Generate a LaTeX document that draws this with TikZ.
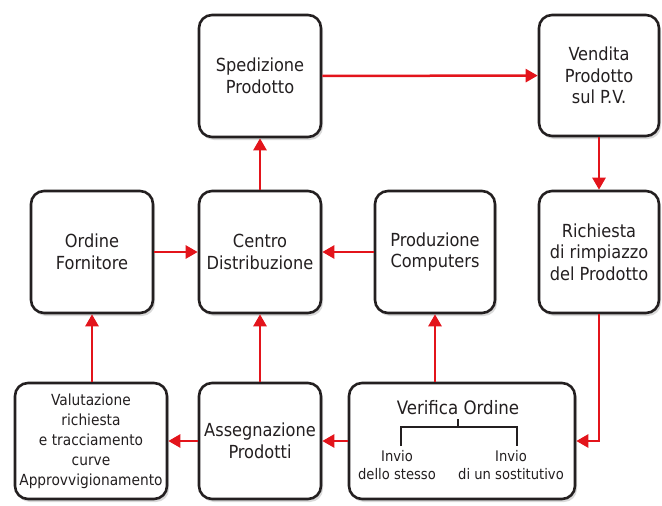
\documentclass[tikz,border=0pt]{standalone}
\usepackage{fontspec}
\setmainfont{DejaVu Sans Condensed}
\usetikzlibrary{arrows.meta,shadows}
\definecolor{arr}{HTML}{E3141B}
\definecolor{txt}{HTML}{231F20}
\begin{document}
\begin{tikzpicture}[x=1pt,y=-1pt,
 box/.style={draw=txt, line width=2.6pt, rounded corners=13pt, fill=white, align=center, text=txt,
   font=\fontsize{18}{21.7}\selectfont, inner sep=0pt,
   drop shadow={opacity=0.3,shadow xshift=2pt,shadow yshift=-3pt}},
 flow/.style={draw=arr, line width=2.5pt, -{Triangle[length=12pt,width=13pt]}},
 brk/.style={draw=txt, line width=1.3pt},
 lbl/.style={align=center, text=txt, font=\fontsize{14.6}{18}\selectfont, inner sep=0pt}]
\useasboundingbox (0,0) rectangle (662,506);
\node[box, minimum width=122pt, minimum height=122pt] (sped) at (260,76) {Spedizione\\Prodotto};
\node[box, minimum width=120pt, minimum height=121pt] (vend) at (599,75.5) {Vendita\\Prodotto\\sul P.V.};
\node[box, minimum width=122pt, minimum height=122pt] (ord) at (92,252) {Ordine\\Fornitore};
\node[box, minimum width=122pt, minimum height=122pt] (cent) at (260,252) {Centro\\Distribuzione};
\node[box, minimum width=120pt, minimum height=122pt] (prod) at (435,252) {Produzione\\Computers};
\node[box, minimum width=120pt, minimum height=122pt] (rich) at (599,252) {Richiesta\\di rimpiazzo\\del Prodotto};
\node[box, minimum width=152pt, minimum height=116pt, font=\fontsize{15.3}{20}\selectfont] (valu) at (91,441) {Valutazione\\richiesta\\e tracciamento\\curve\\Approvvigionamento};
\node[box, minimum width=122pt, minimum height=116pt] (asse) at (260,441) {Assegnazione\\Prodotti};
\node[box, minimum width=226pt, minimum height=116pt] (veri) at (462,441) {};
\node[lbl, font=\fontsize{18.5}{22}\selectfont] (vtit) at (458,408) {Verifica Ordine};
\coordinate (bt) at (458,419);
\coordinate (bm) at (458,427);
\coordinate (bl) at (401,427);
\coordinate (br) at (517,427);
\coordinate (bld) at (401,446);
\coordinate (brd) at (517,446);
\draw[brk] (bt) -- (bm) (bld) -- (bl) -- (br) -- (brd);
\node[lbl] (inv1) at (397,465) {Invio\\dello stesso};
\node[lbl] (inv2) at (511,465) {Invio\\di un sostitutivo};
\draw[flow] (sped) -- (vend);
\draw[flow] (vend) -- (rich);
\draw[flow] (rich.south) |- (veri.east);
\draw[flow] (veri.north -| prod.south) -- (prod.south);
\draw[flow] (veri) -- (asse);
\draw[flow] (asse) -- (valu);
\draw[flow] (asse) -- (cent);
\draw[flow] (valu.north -| ord.south) -- (ord.south);
\draw[flow] (ord) -- (cent);
\draw[flow] (prod) -- (cent);
\draw[flow] (cent) -- (sped);
\end{tikzpicture}
\end{document}
